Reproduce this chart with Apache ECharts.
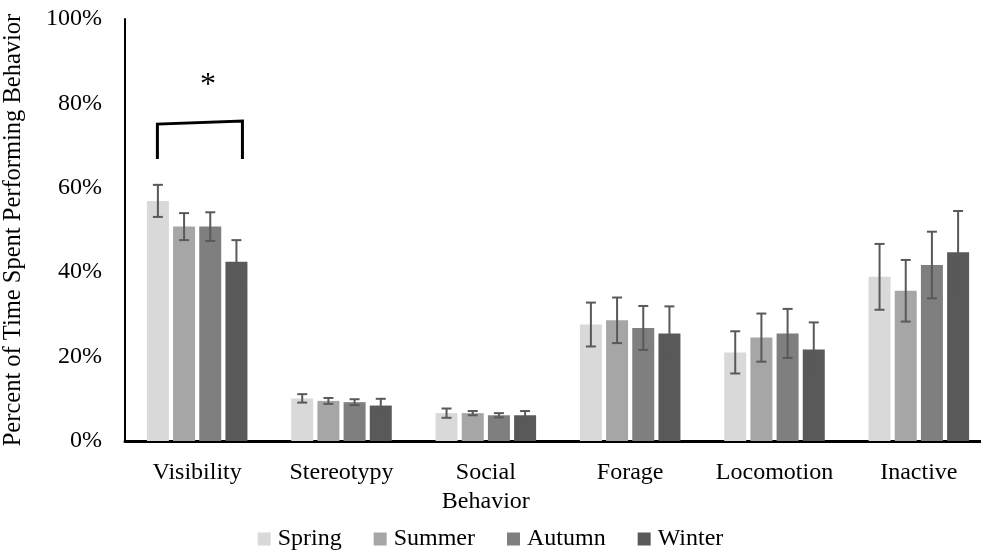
<!DOCTYPE html>
<html>
<head>
<meta charset="utf-8">
<script src="https://cdn.jsdelivr.net/npm/echarts@6/dist/echarts.min.js"></script>
<style>html,body{margin:0;padding:0;background:#fff}#c{width:981px;height:550px}</style>
</head>
<body>
<div id="c"></div>
<script>
const categories = ['Visibility', 'Stereotypy', 'Social\nBehavior', 'Forage', 'Locomotion', 'Inactive'];
const seasons = ['Spring', 'Summer', 'Autumn', 'Winter'];
const spring = [56.9, 10.1, 6.6, 27.6, 21.0, 38.9];
const summer = [50.8, 9.5, 6.6, 28.6, 24.5, 35.6];
const autumn = [50.8, 9.2, 6.1, 26.8, 25.5, 41.7];
const winter = [42.5, 8.4, 6.1, 25.5, 21.7, 44.7];
const springErr = [3.8, 1.0, 1.1, 5.2, 5.0, 7.8];
const summerErr = [3.2, 0.7, 0.5, 5.4, 5.7, 7.3];
const autumnErr = [3.4, 0.7, 0.5, 5.2, 5.8, 7.9];
const winterErr = [5.1, 1.6, 1.0, 6.4, 6.4, 9.8];
const yTicks = [0, 20, 40, 60, 80, 100];
// significance bracket: [category index, left top, right top, bottom]
const bracket = [[0, 75.1, 75.8, 66.8]];
const starLevel = 84.3;

const values = [spring, summer, autumn, winter];
const errors = [springErr, summerErr, autumnErr, winterErr];
const colors = ['#d9d9d9', '#a6a6a6', '#7f7f7f', '#595959'];
const BAR_W = 22;
const GAP_RATIO = 0.19;
const STEP = BAR_W * (1 + GAP_RATIO);
const FONT = 'Liberation Serif';

const barSeries = seasons.map((s, i) => ({
  name: s,
  type: 'bar',
  data: values[i],
  barWidth: BAR_W,
  barGap: (GAP_RATIO * 100) + '%',
  itemStyle: { color: colors[i] },
  z: 2
}));

const errSeries = seasons.map((s, i) => ({
  name: s + ' error',
  type: 'custom',
  z: 5,
  silent: true,
  data: values[i].map((v, k) => [k, v, errors[i][k]]),
  renderItem: function (params, api) {
    const cat = api.value(0), v = api.value(1), e = api.value(2);
    const x = api.coord([cat, v])[0] + (i - 1.5) * STEP;
    const yt = api.coord([cat, v + e])[1];
    const yb = api.coord([cat, v - e])[1];
    const hw = 5;
    const st = { stroke: '#595959', lineWidth: 2 };
    return {
      type: 'group',
      children: [
        { type: 'line', shape: { x1: x, y1: yt, x2: x, y2: yb }, style: st },
        { type: 'line', shape: { x1: x - hw, y1: yt, x2: x + hw, y2: yt }, style: st },
        { type: 'line', shape: { x1: x - hw, y1: yb, x2: x + hw, y2: yb }, style: st }
      ]
    };
  }
}));

const bracketSeries = {
  name: 'significance',
  type: 'custom',
  z: 6,
  silent: true,
  data: bracket,
  renderItem: function (params, api) {
    const cat = api.value(0);
    const cx = api.coord([cat, 0])[0];
    const xl = cx - 1.5 * STEP - 0.5;
    const xr = cx + 1.5 * STEP + 6;
    const ylt = api.coord([cat, api.value(1)])[1];
    const yrt = api.coord([cat, api.value(2)])[1];
    const yb = api.coord([cat, api.value(3)])[1];
    const ys = api.coord([cat, starLevel])[1];
    return {
      type: 'group',
      children: [
        { type: 'polyline', shape: { points: [[xl, yb], [xl, ylt], [xr, yrt], [xr, yb]] },
          style: { stroke: '#000', lineWidth: 3, fill: null } },
        { type: 'text', x: (xl + xr) / 2 + 8, y: ys,
          style: { text: '*', fontFamily: FONT, fontSize: 32, fill: '#000', align: 'center', verticalAlign: 'middle' } }
      ]
    };
  }
};

const chart = echarts.init(document.getElementById('c'));
chart.setOption({
  animation: false,
  backgroundColor: '#fff',
  textStyle: { fontFamily: FONT },
  grid: { left: 125, width: 866, top: 19, bottom: 109, containLabel: false, outerBoundsMode: 'none' },
  legend: {
    data: seasons,
    top: 522,
    left: 'center',
    icon: 'rect',
    itemWidth: 13,
    itemHeight: 13,
    itemGap: 32,
    textStyle: { fontFamily: FONT, fontSize: 24, color: '#000', padding: [0, 0, 0, 2] }
  },
  xAxis: {
    type: 'category',
    data: categories,
    axisLine: { lineStyle: { color: '#000', width: 3 } },
    axisTick: { show: false },
    axisLabel: { fontFamily: FONT, fontSize: 24, color: '#000', margin: 17, lineHeight: 29, interval: 0 }
  },
  yAxis: {
    type: 'value',
    min: 0,
    max: 100,
    interval: 20,
    name: 'Percent of Time Spent Performing Behavior',
    nameLocation: 'middle',
    nameGap: 99,
    nameTextStyle: { fontFamily: FONT, fontSize: 24.5, color: '#000' },
    axisLine: { show: true, lineStyle: { color: '#000', width: 2 } },
    axisTick: { show: false },
    splitLine: { show: false },
    axisLabel: {
      fontFamily: FONT, fontSize: 24, color: '#000', margin: 23,
      formatter: v => (yTicks.indexOf(v) >= 0 ? v + '%' : '')
    }
  },
  series: [...barSeries, ...errSeries, bracketSeries]
});
</script>
</body>
</html>
